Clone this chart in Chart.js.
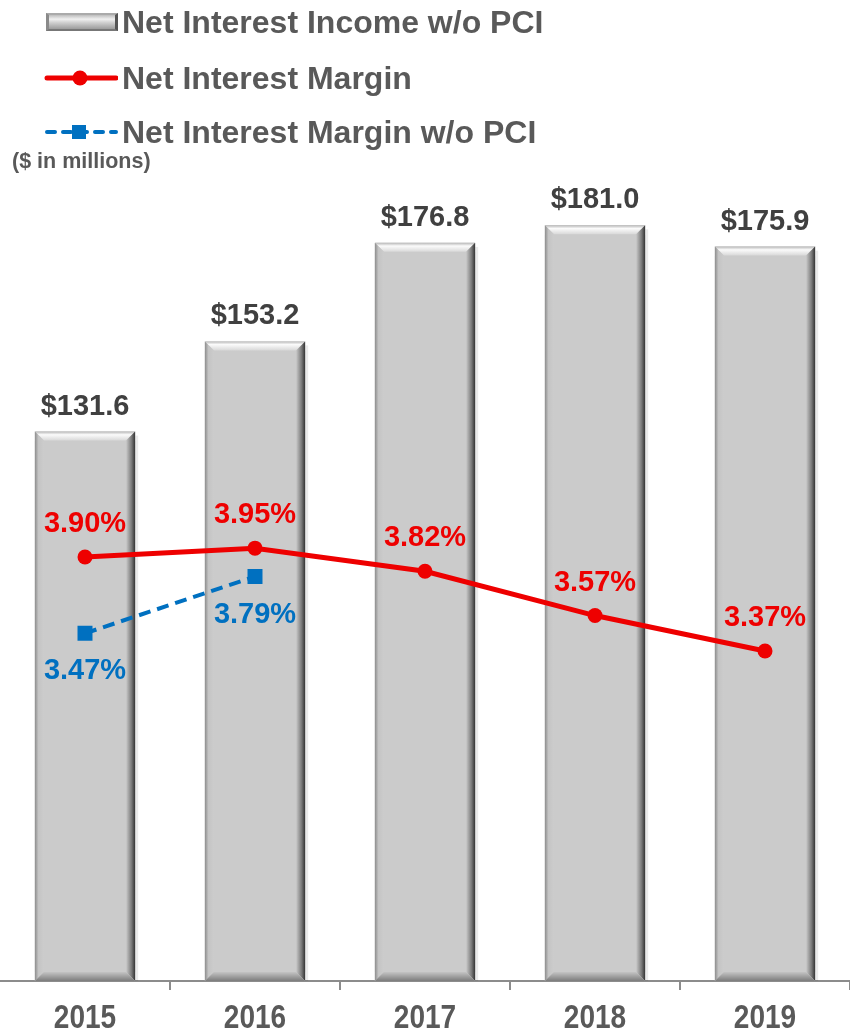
<!DOCTYPE html>
<html>
<head>
<meta charset="utf-8">
<script src="https://cdn.jsdelivr.net/npm/chart.js@4"></script>
<style>
  html, body { margin: 0; padding: 0; background: #fff; overflow: hidden; }
  #wrap { position: relative; width: 850px; height: 1030px; }
  #chart { position: absolute; left: 0; top: 0; }
  .legend { position: absolute; left: 0; top: 0; font-family: "Liberation Sans", Arial, sans-serif; font-weight: bold; color: #595959; }
  .row { position: absolute; left: 44px; height: 40px; display: flex; align-items: center; white-space: nowrap; }
  .row span { font-size: 32px; margin-left: 4px; }
  .icon { position: relative; width: 74px; height: 20px; }
  .barIcon { position: absolute; left: 2px; top: 1px; width: 72px; height: 18px; box-sizing: border-box;
    background: linear-gradient(#bdbdbd, #f0f0f0 30%, #cfcfcf 55%, #9c9c9c);
    border-left: 3px solid #8a8a8a; border-right: 3px solid #555; border-top: 2px solid #aaa; border-bottom: 2px solid #777; }
  .units { position: absolute; left: 12px; top: 149px; font-size: 21.5px; white-space: nowrap; }
</style>
</head>
<body>
<div id="wrap">
  <canvas id="chart" width="850" height="1030"></canvas>
  <div class="legend">
    <div class="row" style="top:2px"><div class="icon"><div class="barIcon"></div></div><span>Net Interest Income w/o PCI</span></div>
    <div class="row" style="top:58px"><canvas class="icon" id="redIcon" width="74" height="20"></canvas><span>Net Interest Margin</span></div>
    <div class="row" style="top:112px"><canvas class="icon" id="blueIcon" width="74" height="20"></canvas><span>Net Interest Margin w/o PCI</span></div>
    <div class="units">($ in millions)</div>
  </div>
</div>
<script>
const years = ['2015', '2016', '2017', '2018', '2019']
const netInterestIncome = [131.6, 153.2, 176.8, 181.0, 175.9]
const netInterestMargin = [3.90, 3.95, 3.82, 3.57, 3.37]
const marginWithoutPci = [3.47, 3.79, null, null, null]

const RED = '#ee0000'
const BLUE = '#0070c0'
const GREY_TEXT = '#404040'
const FONT = '"Liberation Sans", Arial, sans-serif'

// legend icons for the two lines
function drawLineIcon(id, color, dashed, square) {
  const c = document.getElementById(id).getContext('2d')
  c.strokeStyle = color
  c.fillStyle = color
  c.lineWidth = dashed ? 4 : 5
  c.lineCap = 'round'
  if (dashed) c.setLineDash([8, 8])
  c.beginPath()
  c.moveTo(3, 10)
  c.lineTo(72, 10)
  c.stroke()
  c.setLineDash([])
  if (square) {
    c.fillRect(28, 3, 14, 14)
  } else {
    c.beginPath()
    c.arc(36, 10, 7.5, 0, Math.PI * 2)
    c.fill()
  }
}
drawLineIcon('redIcon', RED, false, false)
drawLineIcon('blueIcon', BLUE, true, true)

// bevelled look for the bars
const bevelPlugin = {
  id: 'bevel',
  afterDatasetDraw(chart, args) {
    if (args.index !== 0) return
    const ctx = chart.ctx
    const b = 9
    args.meta.data.forEach((bar) => {
      const { x, y, base, width } = bar.getProps(['x', 'y', 'base', 'width'], true)
      const x0 = x - width / 2
      const x1 = x + width / 2
      const y0 = y
      const y1 = base
      ctx.save()
      // soft shadow on the right
      ctx.fillStyle = 'rgba(0,0,0,0.08)'
      ctx.fillRect(x1, y0 + 4, 3, y1 - y0 - 4)

      let g = ctx.createLinearGradient(0, y0, 0, y0 + b)
      g.addColorStop(0, '#b8b8b8')
      g.addColorStop(0.35, '#fbfbfb')
      g.addColorStop(1, '#d8d8d8')
      ctx.fillStyle = g
      ctx.beginPath()
      ctx.moveTo(x0, y0); ctx.lineTo(x1, y0); ctx.lineTo(x1 - b, y0 + b); ctx.lineTo(x0 + b, y0 + b)
      ctx.closePath(); ctx.fill()

      g = ctx.createLinearGradient(x0, 0, x0 + b, 0)
      g.addColorStop(0, '#8c8c8c')
      g.addColorStop(0.4, '#c4c4c4')
      g.addColorStop(1, '#cccccc')
      ctx.fillStyle = g
      ctx.beginPath()
      ctx.moveTo(x0, y0); ctx.lineTo(x0 + b, y0 + b); ctx.lineTo(x0 + b, y1 - b); ctx.lineTo(x0, y1)
      ctx.closePath(); ctx.fill()

      g = ctx.createLinearGradient(x1 - b, 0, x1, 0)
      g.addColorStop(0, '#c8c8c8')
      g.addColorStop(0.6, '#7a7a7a')
      g.addColorStop(1, '#333333')
      ctx.fillStyle = g
      ctx.beginPath()
      ctx.moveTo(x1, y0); ctx.lineTo(x1, y1); ctx.lineTo(x1 - b, y1 - b); ctx.lineTo(x1 - b, y0 + b)
      ctx.closePath(); ctx.fill()

      g = ctx.createLinearGradient(0, y1 - b, 0, y1)
      g.addColorStop(0, '#c4c4c4')
      g.addColorStop(1, '#7c7c7c')
      ctx.fillStyle = g
      ctx.beginPath()
      ctx.moveTo(x0, y1); ctx.lineTo(x1, y1); ctx.lineTo(x1 - b, y1 - b); ctx.lineTo(x0 + b, y1 - b)
      ctx.closePath(); ctx.fill()
      ctx.restore()
    })
  }
}

// value labels and narrow year labels
const labelPlugin = {
  id: 'valueLabels',
  afterDatasetsDraw(chart) {
    const ctx = chart.ctx
    ctx.save()
    ctx.font = 'bold 29px ' + FONT
    ctx.textAlign = 'center'
    ctx.textBaseline = 'middle'
    chart.data.datasets.forEach((ds, i) => {
      const meta = chart.getDatasetMeta(i)
      meta.data.forEach((el, j) => {
        const v = ds.data[j]
        if (v === null || v === undefined) return
        if (i === 0) {
          ctx.fillStyle = GREY_TEXT
          ctx.fillText('$' + v.toFixed(1), el.x, el.y - 25)
        } else if (i === 1) {
          ctx.fillStyle = RED
          ctx.fillText(v.toFixed(2) + '%', el.x, el.y - 33)
        } else {
          ctx.fillStyle = BLUE
          ctx.fillText(v.toFixed(2) + '%', el.x, el.y + 38)
        }
      })
    })
    // year labels, squeezed like a narrow face
    const xs = chart.scales.x
    ctx.font = 'bold 33px ' + FONT
    ctx.fillStyle = '#595959'
    ctx.textBaseline = 'alphabetic'
    chart.data.labels.forEach((lab, i) => {
      const px = xs.getPixelForValue(i)
      ctx.save()
      ctx.translate(px, 1028)
      ctx.scale(0.85, 1)
      ctx.fillText(lab, 0, 0)
      ctx.restore()
    })
    ctx.restore()
  }
}

const ctx = document.getElementById('chart').getContext('2d')
new Chart(ctx, {
  type: 'bar',
  data: {
    labels: years,
    datasets: [{
      label: 'Net Interest Income w/o PCI',
      data: netInterestIncome,
      backgroundColor: '#cbcbcb',
      borderWidth: 0,
      barPercentage: 0.59,
      categoryPercentage: 1,
      yAxisID: 'y',
      order: 2
    }, {
      type: 'line',
      label: 'Net Interest Margin',
      data: netInterestMargin,
      borderColor: RED,
      backgroundColor: RED,
      borderWidth: 5,
      pointRadius: 7.5,
      pointBorderWidth: 0,
      tension: 0,
      yAxisID: 'y2',
      order: 0
    }, {
      type: 'line',
      label: 'Net Interest Margin w/o PCI',
      data: marginWithoutPci,
      borderColor: BLUE,
      backgroundColor: BLUE,
      borderWidth: 4,
      borderDash: [12, 7],
      pointStyle: 'rect',
      pointRadius: 10.6,
      pointBorderWidth: 0,
      spanGaps: false,
      yAxisID: 'y2',
      order: 1
    }]
  },
  options: {
    responsive: false,
    animation: false,
    layout: { autoPadding: false, padding: { top: 146, left: 0, right: 0, bottom: 0 } },
    plugins: {
      legend: { display: false },
      tooltip: { enabled: false }
    },
    scales: {
      x: {
        offset: true,
        border: { display: true, color: '#8c8c8c', width: 2 },
        grid: {
          offset: true,
          drawOnChartArea: false,
          drawTicks: true,
          tickLength: 9,
          lineWidth: 2,
          color: (c) => (c.index === 0 || c.index === years.length ? 'rgba(0,0,0,0)' : '#8c8c8c')
        },
        ticks: { display: false },
        afterFit: (scale) => {
          scale.height = 49
          scale.paddingLeft = 0
          scale.paddingRight = 0
        }
      },
      y: {
        display: false,
        min: 0,
        max: 200
      },
      y2: {
        display: false,
        min: 1.51,
        max: 6.217
      }
    }
  },
  plugins: [bevelPlugin, labelPlugin]
})
</script>
</body>
</html>
